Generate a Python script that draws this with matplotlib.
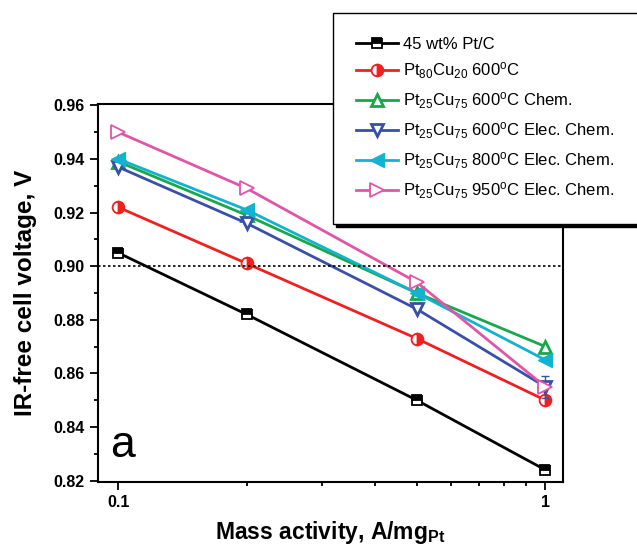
import numpy as np
import matplotlib
matplotlib.use("Agg")
import matplotlib.pyplot as plt
from matplotlib.ticker import MultipleLocator, FixedLocator, NullFormatter

plt.rcParams['font.family'] = ['Liberation Sans', 'DejaVu Sans']
plt.rcParams['mathtext.default'] = 'regular'

# mass activity (A/mg_Pt) and IR-free cell voltage (V)
mass_activity = [0.1, 0.2, 0.5, 1.0]
pt_c = [0.905, 0.882, 0.850, 0.824]
pt80cu20_600 = [0.922, 0.901, 0.873, 0.850]
pt25cu75_600_chem = [0.939, 0.919, 0.890, 0.870]
pt25cu75_600_elec = [0.937, 0.916, 0.884, 0.855]
pt25cu75_800_elec = [0.940, 0.921, 0.890, 0.865]
pt25cu75_950_elec = [0.950, 0.929, 0.894, 0.855]
# error bar on the 600C elec. chem. point at 1 A/mg
blue_err = [0, 0, 0, 0.004]

labels = ['45 wt% Pt/C',
          r'Pt$_{80}$Cu$_{20}$ 600$^{o}$C',
          r'Pt$_{25}$Cu$_{75}$ 600$^{o}$C Chem.',
          r'Pt$_{25}$Cu$_{75}$ 600$^{o}$C Elec. Chem.',
          r'Pt$_{25}$Cu$_{75}$ 800$^{o}$C Elec. Chem.',
          r'Pt$_{25}$Cu$_{75}$ 950$^{o}$C Elec. Chem.']

fig = plt.figure(figsize=(6.37, 5.5), dpi=100)
ax = fig.add_axes([0.154, 0.1236, 0.730, 0.6874])

lw = 2.0
ms = 8.5
h = []
h += ax.plot(mass_activity, pt_c, color='black', lw=lw, marker='s', ms=7,
             fillstyle='top', mfc='black', mfcalt='white', mec='black', mew=1.3)
h += ax.plot(mass_activity, pt80cu20_600, color='#f02020', lw=lw, marker='o', ms=ms,
             fillstyle='right', mfc='#f02020', mfcalt='white', mec='#f02020', mew=1.3)
h += ax.plot(mass_activity, pt25cu75_600_chem, color='#1aa64a', lw=lw, marker='^', ms=ms,
             mfc='white', mec='#1aa64a', mew=2.0)
ax.errorbar(mass_activity, pt25cu75_600_elec, yerr=blue_err, fmt='none',
            ecolor='#3a4fa8', elinewidth=1.0, capsize=3)
h += ax.plot(mass_activity, pt25cu75_600_elec, color='#3a4fa8', lw=lw, marker='v', ms=ms,
             mfc='white', mec='#3a4fa8', mew=2.0)
h += ax.plot(mass_activity, pt25cu75_800_elec, color='#12b3d0', lw=lw, marker='<', ms=ms + 1,
             mfc='#12b3d0', mec='#12b3d0', mew=1.0)
h += ax.plot(mass_activity, pt25cu75_950_elec, color='#e055a8', lw=lw, marker='>', ms=ms + 1,
             mfc='white', mec='#e055a8', mew=1.3)

ax.axhline(0.90, color='black', lw=1.2, ls=(0, (1.5, 1.5)))

ax.set_xscale('log')
ax.set_xlim(0.0898, 1.10)
ax.set_ylim(0.8195, 0.9605)
ax.xaxis.set_major_locator(FixedLocator([0.1, 1]))
ax.xaxis.set_minor_locator(FixedLocator([0.2, 0.3, 0.4, 0.5, 0.6, 0.7, 0.8, 0.9]))
ax.xaxis.set_minor_formatter(NullFormatter())
ax.set_xticklabels(['0.1', '1'])
ax.yaxis.set_major_locator(MultipleLocator(0.02))
ax.yaxis.set_minor_locator(MultipleLocator(0.01))
ax.yaxis.set_major_formatter(plt.FuncFormatter(lambda v, p: f'{v:.2f}'))

for s in ax.spines.values():
    s.set_linewidth(1.5)
ax.tick_params(which='both', direction='out', width=1.3, labelsize=11.5)
ax.tick_params(which='major', length=6)
ax.tick_params(which='minor', length=3)
for t in ax.get_xticklabels() + ax.get_yticklabels():
    t.set_fontweight('bold')

ax.set_xlabel(r'Mass activity, A/mg$_{Pt}$', fontsize=16.5, fontweight='bold', labelpad=6.5)
ax.set_ylabel('IR-free cell voltage, V', fontsize=17.5, fontweight='bold', labelpad=12)

ax.text(0.026, 0.065, 'a', transform=ax.transAxes, fontsize=32)

leg = fig.legend(h, labels, loc='upper left', bbox_to_anchor=(0.523, 0.976),
                 fontsize=12, frameon=True, fancybox=False, edgecolor='black',
                 framealpha=1, handlelength=2.5, handletextpad=0.3,
                 labelspacing=0.55, borderpad=1.4, borderaxespad=0,
                 shadow={'color': 'black', 'alpha': 1})
leg.get_frame().set_linewidth(1.0)

fig.savefig('out.png', dpi=100)
